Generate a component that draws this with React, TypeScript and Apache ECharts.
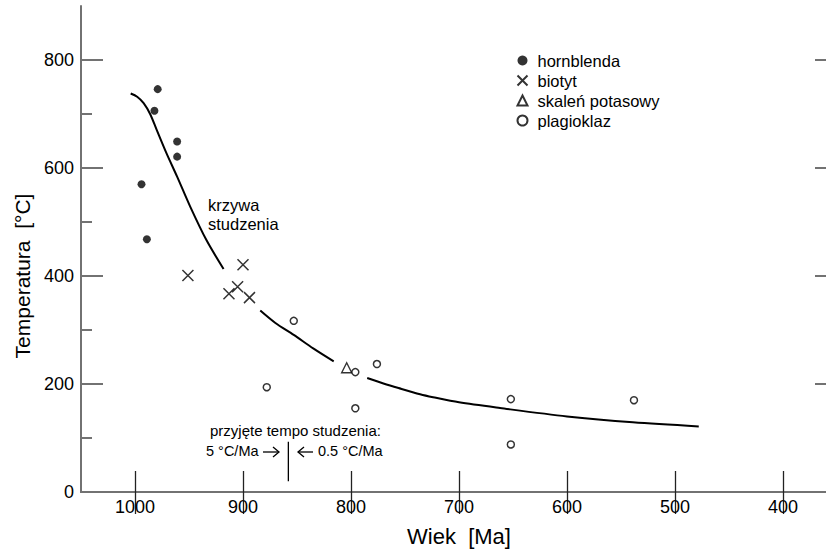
import React, { useEffect, useRef } from "react";
import * as echarts from "echarts";

// Data (age in Ma, temperature in °C)
const hornblendaAge = [979, 982, 961, 961, 994, 989];
const hornblendaTemp = [746, 706, 649, 621, 570, 468];
const biotytAge = [951, 900, 905, 913, 894];
const biotytTemp = [401, 421, 380, 367, 360];
const skalenAge = [804];
const skalenTemp = [230];
const plagioklazAge = [853, 878, 796, 796, 776, 652, 652, 538];
const plagioklazTemp = [317, 194, 222, 155, 237, 172, 88, 170];

// Cooling curve (drawn in three segments with gaps)
const curve1Age = [1004, 998, 992, 986, 980, 971, 961, 949, 934, 918];
const curve1Temp = [738, 732, 720, 700, 671, 628, 584, 529, 467, 413];
const curve2Age = [884, 870, 853, 835, 816];
const curve2Temp = [336, 313, 291, 266, 242];
const curve3Age = [785, 770, 756, 736, 724, 700, 662, 600, 539, 478];
const curve3Temp = [211, 201, 192.5, 181, 175.5, 166, 155.5, 140, 129, 121.5];

// Boundary of accepted cooling rates
const rateLineAge = [858, 858];
const rateLineTemp = [20, 93];

const xTicks = [1000, 900, 800, 700, 600, 500, 400];
const yMajor = [0, 200, 400, 600, 800];
const yMinor = [100, 300, 500, 700];

const zip = (a: number[], b: number[]) => a.map((v, i) => [v, b[i]]);

const FONT = "Liberation Sans, Arial, Helvetica, sans-serif";
const AXIS_COLOR = "#727272";

export default function App() {
  const ref = useRef<HTMLDivElement>(null);
  useEffect(() => {
    if (!ref.current) return;
    const chart = echarts.init(ref.current, undefined, { renderer: "svg" });
    const crossPath = "path://M0,0L10,10M10,0L0,10";
    const curveStyle = { color: "#000", width: 2 };
    const curveBase = { type: "line", smooth: 0.3, symbol: "none", lineStyle: curveStyle, silent: true };
    chart.setOption({
      animation: false,
      backgroundColor: "#fff",
      textStyle: { fontFamily: FONT, color: "#000" },
      grid: { left: 81, top: 6, width: 756, height: 486 },
      legend: {
        orient: "vertical",
        left: 515,
        top: 52,
        padding: 0,
        itemWidth: 10,
        itemHeight: 10,
        itemGap: 3,
        textStyle: { fontSize: 16.5, color: "#000", fontFamily: FONT, padding: [0, 0, 0, 5] },
        data: ["hornblenda", "biotyt", "skaleń potasowy", "plagioklaz"],
      },
      xAxis: [
        {
          type: "value",
          min: 350,
          max: 1050,
          inverse: true,
          position: "bottom",
          splitLine: { show: false },
          axisLine: { lineStyle: { color: AXIS_COLOR, width: 2 } },
          axisTick: { inside: true, length: 21, customValues: xTicks, lineStyle: { color: "#222", width: 1.3 } },
          axisLabel: {
            customValues: xTicks,
            fontSize: 18,
            color: "#000",
            margin: 6,
            fontFamily: FONT,
            formatter: (v: number) => String(v),
          },
          name: "Wiek  [Ma]",
          nameLocation: "middle",
          nameGap: 33,
          nameTextStyle: { fontSize: 22, color: "#000", fontFamily: FONT },
        },
        {
          type: "value",
          min: 350,
          max: 1050,
          inverse: true,
          position: "top",
          splitLine: { show: false },
          axisLine: { lineStyle: { color: AXIS_COLOR, width: 2 } },
          axisTick: { inside: true, length: 22, customValues: xTicks, lineStyle: { color: "#222", width: 1.3 } },
          axisLabel: { show: false },
        },
      ],
      yAxis: [
        {
          type: "value",
          min: 0,
          max: 900,
          position: "left",
          splitLine: { show: false },
          axisLine: { lineStyle: { color: AXIS_COLOR, width: 2 } },
          axisTick: { inside: true, length: 11, customValues: yMinor, lineStyle: { color: AXIS_COLOR, width: 2 } },
          axisLabel: {
            customValues: yMajor,
            fontSize: 18,
            color: "#000",
            margin: 7,
            fontFamily: FONT,
            formatter: (v: number) => String(v),
          },
          name: "Temperatura  [°C]",
          nameLocation: "middle",
          nameGap: 48,
          nameTextStyle: { fontSize: 21, color: "#000", fontFamily: FONT, padding: [0, 54, 0, 0] },
        },
        {
          type: "value",
          min: 0,
          max: 900,
          position: "left",
          splitLine: { show: false },
          axisLine: { show: false },
          axisTick: { inside: true, length: 22, customValues: yMajor.slice(1), lineStyle: { color: AXIS_COLOR, width: 2 } },
          axisLabel: { show: false },
        },
        {
          type: "value",
          min: 0,
          max: 900,
          position: "right",
          splitLine: { show: false },
          axisLine: { lineStyle: { color: AXIS_COLOR, width: 2 } },
          axisTick: { inside: true, length: 22, customValues: yMajor.slice(1), lineStyle: { color: AXIS_COLOR, width: 2 } },
          axisLabel: { show: false },
        },
      ],
      series: [
        { ...curveBase, data: zip(curve1Age, curve1Temp) },
        { ...curveBase, data: zip(curve2Age, curve2Temp) },
        { ...curveBase, data: zip(curve3Age, curve3Temp) },
        {
          type: "line",
          data: zip(rateLineAge, rateLineTemp),
          symbol: "none",
          lineStyle: { color: "#000", width: 1.3 },
          silent: true,
        },
        {
          name: "hornblenda",
          type: "scatter",
          data: zip(hornblendaAge, hornblendaTemp),
          symbol: "circle",
          symbolSize: 8,
          itemStyle: { color: "#000" },
        },
        {
          name: "biotyt",
          type: "scatter",
          data: zip(biotytAge, biotytTemp),
          symbol: crossPath,
          symbolSize: 11,
          itemStyle: { color: "none", borderColor: "#000", borderWidth: 1.5 },
        },
        {
          name: "skaleń potasowy",
          type: "scatter",
          data: zip(skalenAge, skalenTemp),
          symbol: "triangle",
          symbolSize: 10,
          itemStyle: { color: "#fff", borderColor: "#000", borderWidth: 1.4 },
        },
        {
          name: "plagioklaz",
          type: "scatter",
          data: zip(plagioklazAge, plagioklazTemp),
          symbol: "circle",
          symbolSize: 7,
          itemStyle: { color: "#fff", borderColor: "#000", borderWidth: 1.5 },
        },
      ],
      graphic: [
        {
          type: "text",
          left: 208,
          top: 195,
          style: { text: "krzywa\nstudzenia", fontSize: 16.5, lineHeight: 19, fill: "#000", font: `16.5px ${FONT}` },
        },
        {
          type: "text",
          x: 210,
          y: 430,
          style: { text: "przyjęte tempo studzenia:", fill: "#000", font: `15px ${FONT}`, verticalAlign: "middle" },
        },
        {
          type: "text",
          x: 206,
          y: 451,
          style: { text: "5 °C/Ma", fill: "#000", font: `14.5px ${FONT}`, verticalAlign: "middle" },
        },
        {
          type: "text",
          x: 318,
          y: 451,
          style: { text: "0.5 °C/Ma", fill: "#000", font: `14.5px ${FONT}`, verticalAlign: "middle" },
        },
        { type: "line", shape: { x1: 263, y1: 452, x2: 279, y2: 452 }, style: { stroke: "#000", lineWidth: 1.3 } },
        { type: "polyline", shape: { points: [[273, 447], [279, 452], [273, 457]] }, style: { stroke: "#000", lineWidth: 1.3, fill: "none" } },
        { type: "line", shape: { x1: 298, y1: 452, x2: 313, y2: 452 }, style: { stroke: "#000", lineWidth: 1.3 } },
        { type: "polyline", shape: { points: [[304, 447], [298, 452], [304, 457]] }, style: { stroke: "#000", lineWidth: 1.3, fill: "none" } },
      ],
    });
    return () => chart.dispose();
  }, []);
  return (
    <div style={{ position: "absolute", left: 0, top: 0, width: 826, height: 557, overflow: "hidden", background: "#fff" }}>
      <div ref={ref} style={{ width: 850, height: 557 }} />
    </div>
  );
}
